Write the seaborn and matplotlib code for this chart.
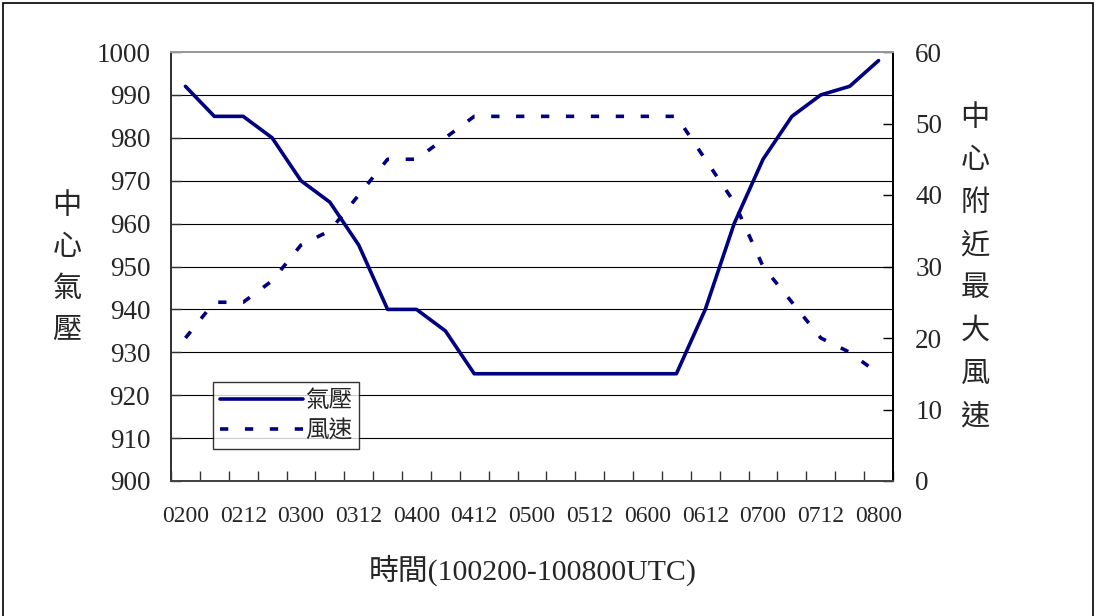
import matplotlib
matplotlib.use('Agg')
import matplotlib.pyplot as plt
import seaborn as sns
import pandas as pd
import numpy as np
from matplotlib.patches import Rectangle

# 時間 (DDHH)
times = ['0200', '0206', '0212', '0218', '0300', '0306', '0312', '0318',
         '0400', '0406', '0412', '0418', '0500', '0506', '0512', '0518',
         '0600', '0606', '0612', '0618', '0700', '0706', '0712', '0718', '0800']
# 中心氣壓 (hPa)
pressure = [992, 985, 985, 980, 970, 965, 955, 940, 940, 935,
            925, 925, 925, 925, 925, 925, 925, 925,
            940, 960, 975, 985, 990, 992, 998]
# 中心附近最大風速
wind = [20, 25, 25, 28, 33, 35, 40, 45, 45, 48,
        51, 51, 51, 51, 51, 51, 51, 51,
        45, 39, 30, 25, 20, 18, 15]

p_ticks = list(range(900, 1001, 10))
w_ticks = list(range(0, 61, 10))

df = pd.DataFrame({'時間': times, '氣壓': pressure, '風速': wind})

sns.set_style('white')
serif = ['Liberation Serif', 'Noto Sans CJK TC']
cjk = ['Noto Sans CJK TC', 'DejaVu Sans']
plt.rcParams['font.family'] = serif

navy = '#000080'
fig = plt.figure(figsize=(10.98, 6.16), dpi=100)
ax = fig.add_axes([171/1098, 1-481/616, 722/1098, 429/616])
ax2 = ax.twinx()

sns.lineplot(data=df, x='時間', y='氣壓', ax=ax, color=navy, lw=2.6,
             label='氣壓', sort=False)
sns.lineplot(data=df, x='時間', y='風速', ax=ax2, color=navy, lw=2.6,
             label='風速', sort=False, linestyle=(0, (2.3, 4.6)))

ax.set_xlim(-0.5, len(times) - 0.5)
ax.set_ylim(900, 1000)
ax2.set_ylim(0, 60)
ax.set_yticks(p_ticks)
ax2.set_yticks(w_ticks)
ax.set_xticks(range(0, len(times), 2))
ax.set_xticklabels(times[::2])
ax.set_xticks(np.arange(-0.5, len(times), 1), minor=True)

ax.grid(False)
ax2.grid(False)
for v in p_ticks[1:-1]:
    ax.axhline(v, color='black', lw=0.8, zorder=0)

ax.tick_params(axis='x', which='major', length=0, pad=18, labelsize=17)
ax.tick_params(axis='x', which='minor', direction='in', length=7,
               width=1, color='#333333', bottom=True)
ax.tick_params(axis='y', direction='in', length=7, width=1, pad=15,
               labelsize=19.5, left=True, color='#333333')
ax2.tick_params(axis='y', direction='in', length=7, width=1, pad=16,
                labelsize=19.5, right=True, color='black')

ax.set_xlabel('')
ax.set_ylabel('')
ax2.set_ylabel('')

for a in (ax, ax2):
    a.spines['left'].set_color('#333333')
    a.spines['bottom'].set_color('#444444')
    a.spines['top'].set_color('#999999')
    a.spines['right'].set_color('black')
    for s in a.spines.values():
        s.set_linewidth(1.4)

h1, l1 = ax.get_legend_handles_labels()
h2, l2 = ax2.get_legend_handles_labels()
if ax.get_legend():
    ax.get_legend().remove()
leg = ax2.legend(h1 + h2, l1 + l2, loc='upper left',
                 bbox_to_anchor=(42/722, 99/429), frameon=True, fancybox=False,
                 edgecolor='black', prop={'family': cjk, 'size': 17},
                 handlelength=3.5, handletextpad=0.1, labelspacing=0.3,
                 borderpad=0.3, borderaxespad=0)
leg.get_frame().set_linewidth(1.0)

fig.text(533/1098, 1-570/616, '時間(100200-100800UTC)', ha='center',
         va='center', fontsize=21.5, family=serif)
fig.text(67/1098, 1-268/616, '\n'.join('中心氣壓'), ha='center', va='center',
         fontsize=21, family=cjk, linespacing=1.5)
fig.text(975/1098, 1-267/616, '\n'.join('中心附近最大風速'), ha='center',
         va='center', fontsize=21, family=cjk, linespacing=1.55)

fig.patches.append(Rectangle((3/1098, -0.05), 1090/1098, 1.05-3/616,
                             transform=fig.transFigure, fill=False,
                             edgecolor='black', lw=1.2))

fig.savefig('out.png', dpi=100)
